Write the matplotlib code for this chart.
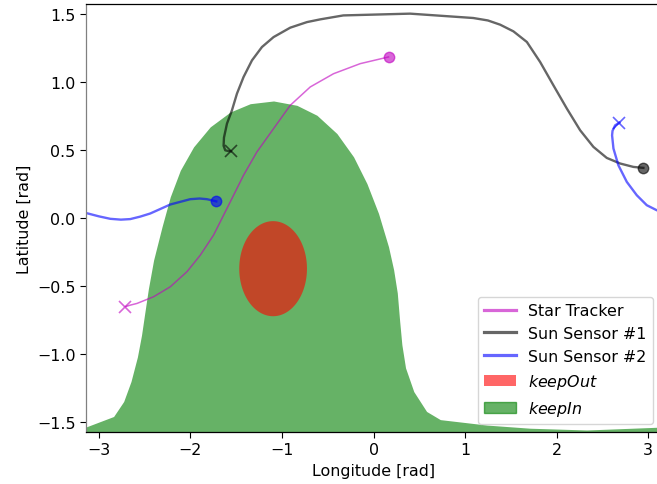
import numpy as np
import matplotlib
matplotlib.use("Agg")
import matplotlib.pyplot as plt
from matplotlib.lines import Line2D
from matplotlib.patches import Patch

plt.rcParams["font.size"] = 11.4
plt.rcParams["xtick.major.size"] = 4
plt.rcParams["ytick.major.size"] = 4

# keepIn region boundary (upper edge, filled down to the pole)
keepin_lon = [-3.1416, -3.13, -2.84, -2.73, -2.65, -2.58, -2.535, -2.50, -2.46, -2.403, -2.311,
              -2.221, -2.111, -1.966, -1.784, -1.565, -1.347, -1.092, -0.837, -0.618, -0.40,
              -0.218, -0.072, 0.055, 0.164, 0.22, 0.26, 0.285, 0.31, 0.35, 0.44, 0.58, 0.73,
              1.24, 1.71, 2.33, 3.10, 3.1416]
keepin_lat = [-1.535, -1.531, -1.457, -1.347, -1.20, -1.02, -0.86, -0.70, -0.52, -0.309, -0.065,
              0.155, 0.35, 0.522, 0.669, 0.778, 0.839, 0.859, 0.827, 0.754, 0.62,
              0.449, 0.253, 0.033, -0.211, -0.38, -0.55, -0.75, -0.93, -1.10, -1.274, -1.42, -1.48,
              -1.52, -1.543, -1.556, -1.536, -1.535]

# keepOut region (ellipse centre / half axes)
keepout_center = (-1.097, -0.372)
keepout_half = (0.37, 0.349)

# sensor paths (start -> end)
star_lon = [-2.712, -2.66, -2.584, -2.403, -2.221, -2.038, -1.893, -1.748, -1.638, -1.529, -1.42,
            -1.274, -1.092, -0.91, -0.691, -0.437, -0.145, 0.164]
star_lat = [-0.651, -0.64, -0.627, -0.578, -0.505, -0.394, -0.273, -0.126, 0.021, 0.167, 0.314,
            0.485, 0.656, 0.827, 0.962, 1.059, 1.133, 1.182]

sun1_lon = [-1.558, -1.59, -1.62, -1.638, -1.634, -1.601, -1.547, -1.492, -1.42, -1.328, -1.219,
            -1.092, -0.91, -0.727, -0.582, -0.33, 0.40, 1.09, 1.25, 1.384, 1.529, 1.676, 1.821,
            1.966, 2.113, 2.258, 2.403, 2.549, 2.695, 2.84, 2.949]
sun1_lat = [0.49, 0.492, 0.497, 0.53, 0.59, 0.693, 0.79, 0.913, 1.035, 1.157, 1.255,
            1.328, 1.397, 1.438, 1.458, 1.487, 1.50, 1.468, 1.45, 1.419, 1.37, 1.292, 1.145,
            0.974, 0.803, 0.644, 0.522, 0.441, 0.40, 0.375, 0.368]

sun2_lon = [2.687, 2.64, 2.612, 2.607, 2.622, 2.676, 2.768, 2.877, 2.986, 3.095, 3.16,
            -3.12, -3.0, -2.876, -2.76, -2.658, -2.55, -2.44, -2.33, -2.221, -2.003, -1.9,
            -1.82, -1.718]
sun2_lat = [0.70, 0.68, 0.64, 0.607, 0.51, 0.387, 0.265, 0.167, 0.094, 0.057, 0.042,
            0.033, 0.012, -0.006, -0.012, -0.008, 0.01, 0.033, 0.066, 0.099, 0.138, 0.143,
            0.138, 0.122]


def split_wrap(lon, lat):
    """Break a path where it wraps around +/- pi."""
    lon = np.asarray(lon)
    lat = np.asarray(lat)
    cut = np.where(np.abs(np.diff(lon)) > np.pi)[0] + 1
    return zip(np.split(lon, cut), np.split(lat, cut))


fig = plt.figure(figsize=(6.57, 4.85), dpi=100)
ax = fig.add_axes([86 / 657, 52 / 485, 575 / 657, 428 / 485])

ax.fill_between(keepin_lon, keepin_lat, -np.pi / 2, color="green", alpha=0.6, lw=0)

t = np.linspace(0, 2 * np.pi, 200)
ax.fill(keepout_center[0] + keepout_half[0] * np.cos(t),
        keepout_center[1] + keepout_half[1] * np.sin(t),
        color="red", alpha=0.6, lw=0)

paths = [
    (star_lon, star_lat, "m", 1.1),
    (sun1_lon, sun1_lat, "k", 1.7),
    (sun2_lon, sun2_lat, "b", 1.7),
]
for lon, lat, c, lw in paths:
    for seg_lon, seg_lat in split_wrap(lon, lat):
        ax.plot(seg_lon, seg_lat, color=c, alpha=0.6, lw=lw, solid_joinstyle="round")
    ax.plot(lon[0], lat[0], "x", color=c, alpha=0.6, ms=8, mew=1.2)
    ax.plot(lon[-1], lat[-1], "o", color=c, alpha=0.6, ms=7.5)

ax.set_xlim(-np.pi, np.pi)
ax.set_ylim(-np.pi / 2, np.pi / 2)
ax.set_xlabel("Longitude [rad]")
ax.set_ylabel("Latitude [rad]")
ax.spines["left"].set_color("#808080")
for s in ax.spines.values():
    s.set_linewidth(0.9)

handles = [
    Line2D([], [], color="m", alpha=0.6, lw=2.3),
    Line2D([], [], color="k", alpha=0.6, lw=2.3),
    Line2D([], [], color="b", alpha=0.6, lw=2.3),
    Patch(facecolor="red", alpha=0.6, lw=0),
    Patch(facecolor="green", edgecolor="green", alpha=0.6),
]
labels = ["Star Tracker", "Sun Sensor #1", "Sun Sensor #2", "$keepOut$", "$keepIn$"]
ax.legend(handles, labels, loc="lower right")

fig.savefig("out.png", dpi=100)
